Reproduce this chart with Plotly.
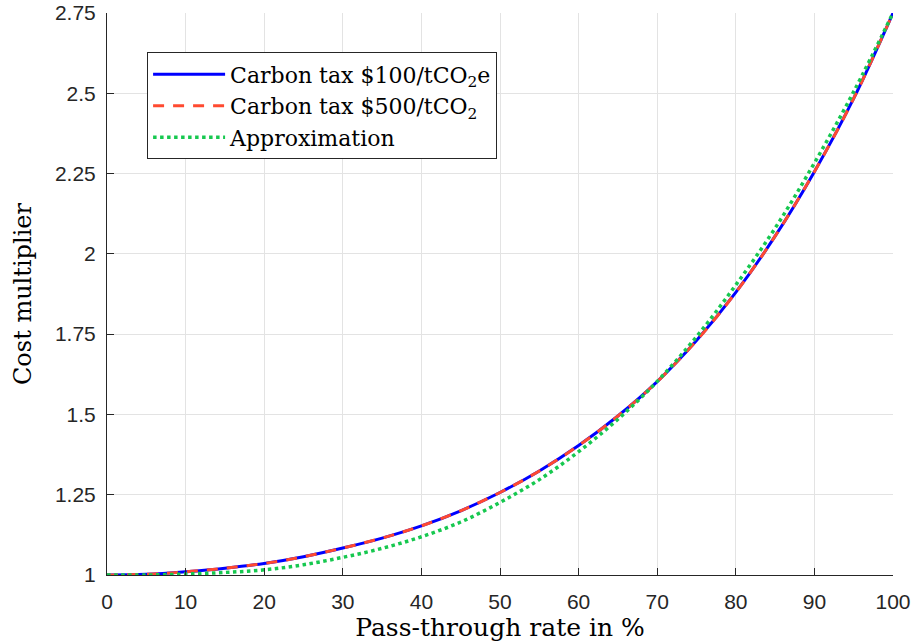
import plotly.graph_objects as go

# Pass-through rate (%)
pass_through = [0, 5, 10, 15, 20, 25, 30, 35, 40, 45, 50,
                55, 60, 65, 70, 75, 80, 85, 90, 95, 100]

# Cost multiplier, carbon tax $100/tCO2e
tax_100 = [1.000, 1.002, 1.010, 1.021, 1.036, 1.057, 1.084, 1.115, 1.153, 1.200, 1.257,
           1.324, 1.403, 1.495, 1.602, 1.730, 1.880, 2.055, 2.256, 2.484, 2.750]

# Cost multiplier, carbon tax $500/tCO2
tax_500 = [1.000, 1.002, 1.010, 1.021, 1.036, 1.057, 1.084, 1.115, 1.153, 1.200, 1.257,
           1.324, 1.403, 1.495, 1.602, 1.730, 1.880, 2.055, 2.256, 2.484, 2.750]

# Approximation
approx = [1.000, 1.000, 1.003, 1.008, 1.016, 1.032, 1.055, 1.083, 1.119, 1.165, 1.226,
          1.297, 1.384, 1.485, 1.603, 1.742, 1.903, 2.080, 2.283, 2.505, 2.750]

x_ticks = [0, 10, 20, 30, 40, 50, 60, 70, 80, 90, 100]
y_ticks = [1, 1.25, 1.5, 1.75, 2, 2.25, 2.5, 2.75]
y_tick_text = ["1", "1.25", "1.5", "1.75", "2", "2.25", "2.5", "2.75"]

serif = "DejaVu Serif"
sans = "Liberation Sans"
axis_col = "#262626"
grid_col = "#e3e3e3"

fig = go.Figure()
fig.add_trace(go.Scatter(x=pass_through, y=tax_100, mode="lines", line_shape="spline",
                         name="Carbon tax $100/tCO<sub>2</sub>e",
                         line=dict(color="#0000ff", width=3)))
fig.add_trace(go.Scatter(x=pass_through, y=tax_500, mode="lines", line_shape="spline",
                         name="Carbon tax $500/tCO<sub>2</sub>",
                         line=dict(color="#ff4a30", width=3, dash="11px,9px")))
fig.add_trace(go.Scatter(x=pass_through, y=approx, mode="lines", line_shape="spline",
                         name="Approximation",
                         line=dict(color="#16c84f", width=3.5, dash="dot")))

fig.update_layout(
    width=914, height=644,
    margin=dict(l=107, r=21, t=13, b=69),
    paper_bgcolor="white", plot_bgcolor="white",
    showlegend=True,
    legend=dict(x=0.051, y=0.93, xanchor="left", yanchor="top",
                bgcolor="white", bordercolor=axis_col, borderwidth=1,
                font=dict(family=serif, size=22, color="black"),
                itemwidth=72, tracegroupgap=0),
)
fig.update_xaxes(
    range=[0, 100], tickvals=x_ticks, ticks="inside", ticklen=7, tickcolor=axis_col,
    showline=True, linecolor=axis_col, linewidth=1, mirror=False, automargin=False,
    showgrid=True, gridcolor=grid_col, gridwidth=1, zeroline=False,
    tickfont=dict(family=sans, size=21, color=axis_col), ticklabelstandoff=8,
    title=dict(text="Pass-through rate in %", font=dict(family=serif, size=25, color="black"),
               standoff=0),
)
fig.update_yaxes(
    range=[1, 2.75], tickvals=y_ticks, ticktext=y_tick_text, ticks="inside", ticklen=7,
    tickcolor=axis_col, showline=True, linecolor=axis_col, linewidth=1, mirror=False,
    automargin=False, ticklabelstandoff=6,
    showgrid=True, gridcolor=grid_col, gridwidth=1, zeroline=False,
    tickfont=dict(family=sans, size=21, color=axis_col),
    title=dict(text="Cost multiplier", font=dict(family=serif, size=24, color="black"),
               standoff=16),
)

fig.write_html("out.html")
